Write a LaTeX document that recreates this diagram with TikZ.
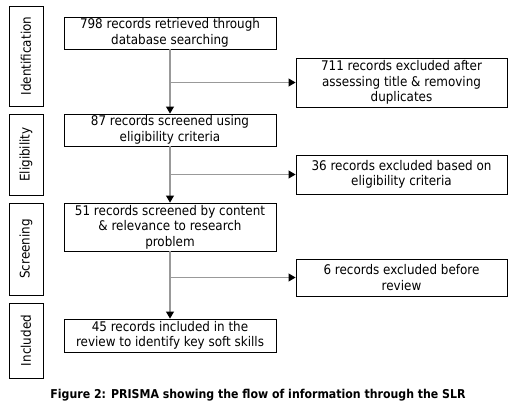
\documentclass[tikz,border=0pt]{standalone}
\usepackage{fontspec}
\setmainfont{DejaVu Sans Condensed}
\usepackage{tikz}
\usetikzlibrary{arrows.meta, positioning}

\begin{document}
\begin{tikzpicture}[x=1pt, y=-1pt,
  stage/.style={rectangle, draw=black, line width=0.9pt, rotate=90,
                minimum height=34pt, inner sep=0pt,
                font=\fontsize{13.3}{15.6}\selectfont},
  record/.style={rectangle, draw=black, line width=0.9pt, align=center,
                 inner sep=0pt, font=\fontsize{13.3}{15.6}\selectfont},
  flow/.style={draw=black!40, line width=1.1pt,
               -{Triangle[length=7pt, width=8pt, black]}},
]
\useasboundingbox (0,0) rectangle (514,409);
% Stage labels down the left side, one box per PRISMA phase
\foreach \i/\y/\h/\stg in {
  0/56/100/Identification,
  1/154.5/81/Eligibility,
  2/249/92/Screening,
  3/340.5/75/Included
} {
  \node[stage, minimum width=\h pt] (stage\i) at (26,\y) {\stg};
}
% Main column of records
\node[record, minimum width=212pt, minimum height=32pt] (rec1) at (170,33)
  {798 records retrieved through\\database searching};
\node[record, minimum width=212pt, minimum height=32pt] (rec2) at (170,130)
  {87 records screened using\\eligibility criteria};
\node[record, minimum width=212pt, minimum height=48pt] (rec3) at (170,227)
  {51 records screened by content\\\& relevance to research\\problem};
\node[record, minimum width=212pt, minimum height=33pt] (rec4) at (170,335.5)
  {45 records included in the\\review to identify key soft skills};
% Exclusions on the right
\node[record, minimum width=211pt, minimum height=49pt] (excl1) at (401.5,82.5)
  {711 records excluded after\\assessing title \& removing\\duplicates};
\node[record, minimum width=211pt, minimum height=39pt] (excl2) at (401.5,174.5)
  {36 records excluded based on\\eligibility criteria};
\node[record, minimum width=211pt, minimum height=37pt] (excl3) at (401.5,277.5)
  {6 records excluded before\\review};
% Flow
\draw[flow] (rec1) -- (rec2);
\draw[flow] (rec2) -- (rec3);
\draw[flow] (rec3) -- (rec4);
\draw[flow] (rec1.south |- excl1.west) -- (excl1.west);
\draw[flow] (rec2.south |- excl2.west) -- (excl2.west);
\draw[flow] (rec3.south |- excl3.west) -- (excl3.west);
% Caption
\node[font=\fontsize{12.2}{15}\selectfont\bfseries] (caption) at (258,395)
  {Figure 2: PRISMA showing the flow of information through the SLR};
\end{tikzpicture}
\end{document}
